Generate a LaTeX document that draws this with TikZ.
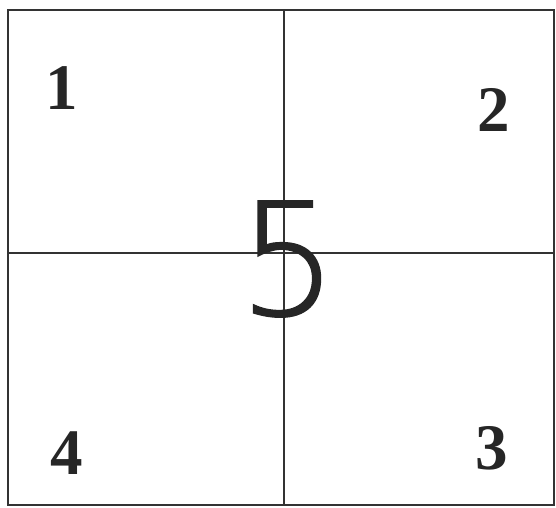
\documentclass[tikz,border=0pt]{standalone}
\usepackage{fontspec}
\setmainfont{Liberation Serif}
\newfontfamily\thinfont[FakeBold=1.1]{DejaVu Sans ExtraLight}
\tikzset{
  gridline/.style={line width=1.7pt, color=black!80},
  cellnum/.style={font=\bfseries\fontsize{37}{37}\selectfont, text=black!85},
  bignum/.style={font=\thinfont\fontsize{89}{89}\selectfont, text=black!85}
}
\begin{document}
\begin{tikzpicture}[x=0.02cm,y=-0.02cm]
		\useasboundingbox (0,0) rectangle (556,508);
		\coordinate (A) at (8,10);
		\coordinate (B) at (554,10);
		\coordinate (C) at (554,505);
		\coordinate (D) at (8,505);
		\coordinate (T) at (284,10);
		\coordinate (U) at (284,505);
		\coordinate (L) at (8,253);
		\coordinate (R) at (554,253);
		\draw [gridline] (A)--(B)--(C)--(D)--cycle (T)--(U) (L)--(R);
		\node [cellnum] (n1) at (62,88)  {1};
		\node [cellnum] (n2) at (494,110) {2};
		\node [cellnum] (n3) at (492,448) {3};
		\node [cellnum] (n4) at (67,453)  {4};
		\node [bignum]  (n5) at (288,259) {5};
\end{tikzpicture}
\end{document}
